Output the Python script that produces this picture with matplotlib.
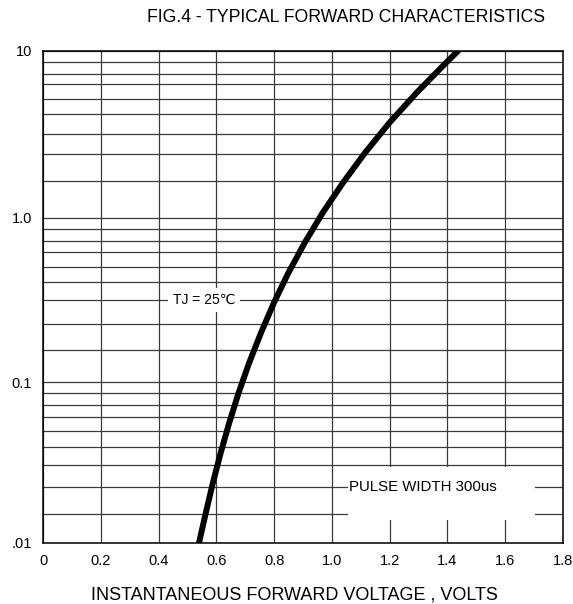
import numpy as np
import matplotlib
matplotlib.use("Agg")
import matplotlib.pyplot as plt
from matplotlib.patches import Rectangle

plt.rcParams['font.family'] = ['Liberation Sans', 'DejaVu Sans']

# forward voltage (V) vs. instantaneous forward current (A)
vf = [0.540, 0.5635, 0.588, 0.615, 0.6445, 0.677, 0.713, 0.754, 0.799,
      0.849, 0.9055, 0.968, 1.038, 1.1146, 1.199, 1.293, 1.395, 1.4365]
i_f = [0.01, 0.0204, 0.0318, 0.0467, 0.0657, 0.09, 0.159, 0.265, 0.3875,
       0.56, 0.782, 1.135, 1.946, 3.05, 4.55, 6.4, 8.92, 10.0]

x_ticks = [0, 0.2, 0.4, 0.6, 0.8, 1.0, 1.2, 1.4, 1.6, 1.8]
x_labels = ['0', '0.2', '0.4', '0.6', '0.8', '1.0', '1.2', '1.4', '1.6', '1.8']
y_ticks = [0.01, 0.1, 1.0, 10.0]
y_labels = ['.01', '0.1', '1.0', '10']

# the printed grid is not a true log grid, so the y scale follows its lines
GRID_V = [m * 10.0 ** d for d in (-2, -1, 0) for m in range(1, 10)] + [10.0]
GRID_POS = [0.0, 0.059, 0.114, 0.159, 0.195, 0.228, 0.256, 0.280, 0.305,
            0.327, 0.392, 0.445, 0.494, 0.530, 0.561, 0.591, 0.614, 0.638,
            0.661, 0.736, 0.791, 0.832, 0.872, 0.903, 0.933, 0.954, 0.978,
            1.0]


def fwd(y):
    return np.interp(np.asarray(y, dtype=float), GRID_V, GRID_POS)


def inv(p):
    return np.interp(np.asarray(p, dtype=float), GRID_POS, GRID_V)


fig = plt.figure(figsize=(5.73, 6.04), dpi=100)
ax = fig.add_axes([43 / 573, 1 - 543 / 604, 520 / 573, 492 / 604])
ax.set_yscale('function', functions=(fwd, inv))
ax.set_xlim(0, 1.8)
ax.set_ylim(0.01, 10)

ax.set_xticks(x_ticks)
ax.set_xticklabels(x_labels)
ax.set_yticks(y_ticks)
ax.set_yticklabels(y_labels)
ax.set_yticks([v for v in GRID_V if v not in y_ticks], minor=True)
ax.set_xticks([], minor=True)
ax.tick_params(which='both', length=0, labelsize=10.5)
ax.tick_params(axis='x', pad=8)
ax.tick_params(axis='y', pad=8)

ax.set_axisbelow(True)
ax.grid(True, which='both', color='#3a3a3a', linewidth=0.9)
for s in ax.spines.values():
    s.set_color('black')
    s.set_linewidth(1.1)

# white patch behind the pulse width note
ax.add_patch(Rectangle((1.056, 0.0179), 0.647, 0.0391 - 0.0179,
                       facecolor='white', edgecolor='none', zorder=1))

ax.plot(vf, i_f, color='black', linewidth=4.3, solid_capstyle='round',
        solid_joinstyle='round', zorder=3)

ax.text(0.557, 0.4, 'TJ = 25\u2103', fontsize=10, ha='center', va='center', zorder=2,
        bbox=dict(facecolor='white', edgecolor='none', pad=3.5))
ax.text(1.058, 0.03, 'PULSE WIDTH 300us', fontsize=10.8, ha='left', va='center', zorder=2)

fig.text(294 / 573, 1 - 595 / 604, 'INSTANTANEOUS FORWARD VOLTAGE , VOLTS',
         fontsize=13, ha='center', va='center')
fig.text(346 / 573, 1 - 18 / 604, 'FIG.4 - TYPICAL FORWARD CHARACTERISTICS',
         fontsize=12.7, ha='center', va='center')

fig.savefig('out.png', dpi=100)
